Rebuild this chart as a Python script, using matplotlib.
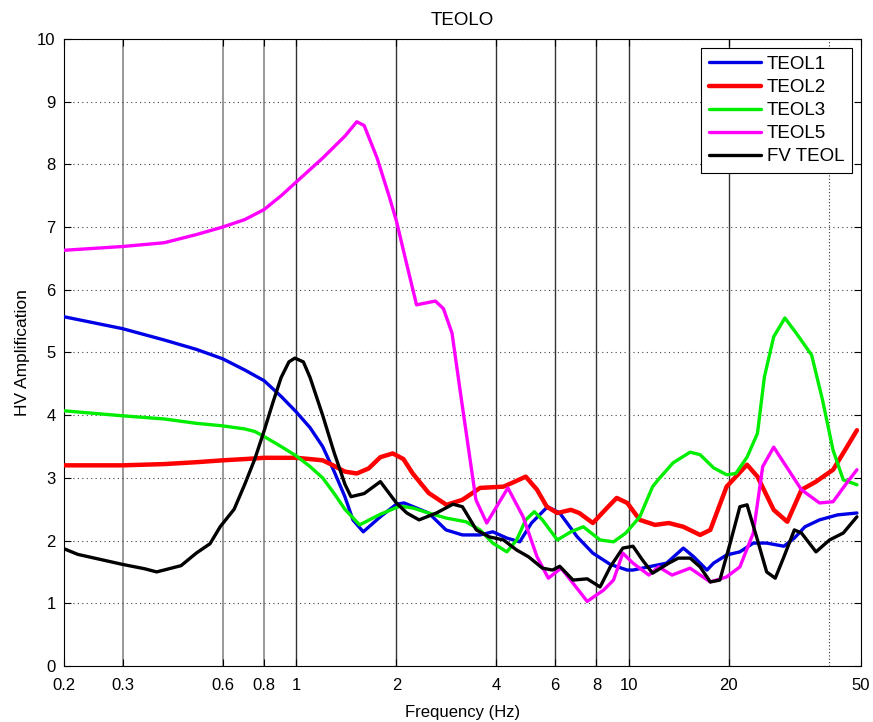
import matplotlib
matplotlib.use('Agg')
import matplotlib.pyplot as plt
import numpy as np

plt.rcParams['font.family'] = ['Liberation Sans', 'DejaVu Sans']

# frequencies (Hz) and HV amplification
f_teol1 = [0.2, 0.3, 0.4, 0.5, 0.6, 0.7, 0.8, 0.9, 1.0, 1.1, 1.2, 1.3, 1.4, 1.48, 1.59, 1.79,
           2.0, 2.11, 2.5, 2.82, 3.16, 3.57, 3.9, 4.3, 4.7, 5.1, 5.7, 6.2, 7.0, 7.8, 8.8, 9.9,
           10.3, 13.0, 14.6, 15.7, 17.2, 18.0, 19.7, 21.6, 23.7, 26.0, 29.3, 31.5, 33.9,
           37.5, 42.5, 48.6]
v_teol1 = [5.57, 5.38, 5.2, 5.05, 4.9, 4.72, 4.55, 4.3, 4.05, 3.8, 3.5, 3.1, 2.7, 2.33, 2.14, 2.38,
           2.58, 2.6, 2.44, 2.17, 2.09, 2.09, 2.14, 2.04, 1.98, 2.28, 2.54, 2.44, 2.06, 1.8, 1.62, 1.53,
           1.53, 1.64, 1.88, 1.74, 1.53, 1.64, 1.77, 1.82, 1.96, 1.96, 1.91, 2.04, 2.22,
           2.33, 2.41, 2.44]

f_teol2 = [0.2, 0.3, 0.4, 0.5, 0.6, 0.7, 0.8, 0.9, 1.0, 1.1, 1.2, 1.29, 1.4, 1.52, 1.65, 1.79,
           1.95, 2.1, 2.24, 2.5, 2.83, 3.16, 3.57, 4.2, 4.5, 4.9, 5.3, 5.67, 6.1, 6.7, 7.1, 7.8,
           8.6, 9.2, 9.9, 10.8, 12.0, 13.2, 14.6, 16.4, 17.6, 19.7, 22.7, 24.4, 27.3, 30.0,
           33.1, 36.6, 41.2, 45.3, 48.6]
v_teol2 = [3.2, 3.2, 3.22, 3.25, 3.28, 3.3, 3.32, 3.32, 3.32, 3.3, 3.28, 3.2, 3.1, 3.07, 3.15, 3.33,
           3.39, 3.3, 3.07, 2.76, 2.57, 2.65, 2.84, 2.86, 2.93, 3.02, 2.81, 2.54, 2.44, 2.49, 2.44, 2.28,
           2.52, 2.68, 2.6, 2.33, 2.25, 2.28, 2.22, 2.09, 2.17, 2.86, 3.21, 3.02, 2.49, 2.3,
           2.81, 2.94, 3.13, 3.49, 3.76]

f_teol3 = [0.2, 0.3, 0.4, 0.5, 0.6, 0.7, 0.75, 0.8, 0.9, 1.0, 1.1, 1.2, 1.3, 1.4, 1.55, 1.79,
           2.05, 2.24, 2.5, 2.82, 3.24, 3.57, 3.9, 4.3, 4.6, 4.9, 5.2, 5.5, 6.1, 6.7, 7.3, 8.2,
           9.0, 9.8, 10.8, 11.8, 12.4, 13.6, 15.3, 16.4, 18.0, 19.7, 21.0, 22.7, 24.4, 25.6,
           27.3, 29.5, 31.9, 35.5, 38.3, 41.2, 44.2, 48.6]
v_teol3 = [4.07, 3.99, 3.94, 3.87, 3.83, 3.78, 3.74, 3.66, 3.5, 3.35, 3.18, 3.0, 2.75, 2.5, 2.25, 2.42,
           2.55, 2.52, 2.44, 2.36, 2.3, 2.17, 1.96, 1.82, 2.01, 2.33, 2.46, 2.33, 2.01, 2.14, 2.22, 2.01,
           1.98, 2.12, 2.38, 2.86, 3.0, 3.24, 3.41, 3.37, 3.16, 3.05, 3.07, 3.33, 3.71, 4.61,
           5.25, 5.55, 5.31, 4.96, 4.24, 3.44, 2.97, 2.89]

f_teol5 = [0.2, 0.3, 0.4, 0.5, 0.6, 0.7, 0.8, 0.9, 1.0, 1.2, 1.4, 1.52, 1.6, 1.75, 1.9, 2.0,
           2.15, 2.3, 2.62, 2.77, 2.94, 3.14, 3.47, 3.74, 4.33, 4.81, 5.3, 5.73, 6.26, 6.8, 7.5,
           8.4, 9.0, 9.6, 10.3, 11.5, 12.3, 13.5, 15.3, 17.6, 19.7, 21.6, 23.7, 25.3, 27.3,
           29.3, 33.1, 37.5, 41.2, 45.3, 48.6]
v_teol5 = [6.63, 6.69, 6.75, 6.88, 7.0, 7.12, 7.28, 7.5, 7.72, 8.1, 8.45, 8.68, 8.62, 8.1, 7.5, 7.1,
           6.4, 5.76, 5.82, 5.7, 5.31, 4.24, 2.65, 2.28, 2.84, 2.38, 1.74, 1.4, 1.56, 1.32, 1.03,
           1.21, 1.37, 1.8, 1.64, 1.45, 1.58, 1.45, 1.56, 1.34, 1.42, 1.58, 2.12, 3.18, 3.49,
           3.24, 2.81, 2.6, 2.62, 2.92, 3.13]

f_fv = [0.2, 0.22, 0.3, 0.35, 0.38, 0.45, 0.5, 0.55, 0.59, 0.65, 0.7, 0.75, 0.8, 0.85, 0.9, 0.95,
        0.99, 1.05, 1.1, 1.2, 1.3, 1.4, 1.46, 1.6, 1.79, 2.0, 2.15, 2.34, 2.64, 2.96, 3.16,
        3.48, 3.8, 4.2, 4.6, 5.0, 5.5, 5.9, 6.2, 6.8, 7.5, 8.2, 8.8, 9.6, 10.3, 11.0, 11.8,
        13.2, 14.1, 15.3, 16.4, 17.6, 18.8, 20.2, 21.6, 22.7, 24.4, 26.0, 27.6, 29.3, 31.5,
        33.1, 36.6, 40.2, 44.2, 48.6]
v_fv = [1.87, 1.78, 1.62, 1.55, 1.5, 1.6, 1.8, 1.95, 2.22, 2.5, 2.9, 3.3, 3.75, 4.2, 4.6, 4.85,
        4.91, 4.85, 4.6, 4.0, 3.4, 2.9, 2.7, 2.75, 2.94, 2.6, 2.44, 2.33, 2.44, 2.58, 2.54,
        2.17, 2.06, 2.01, 1.85, 1.74, 1.56, 1.53, 1.59, 1.37, 1.39, 1.26, 1.58, 1.88, 1.91, 1.69, 1.48,
        1.64, 1.72, 1.72, 1.58, 1.34, 1.37, 1.96, 2.54, 2.57, 2.01, 1.5, 1.4, 1.74, 2.17,
        2.12, 1.82, 2.01, 2.12, 2.38]

x_ticks = [0.2, 0.3, 0.6, 0.8, 1, 2, 4, 6, 8, 10, 20, 50]
x_tick_labels = ['0.2', '0.3', '0.6', '0.8', '1', '2', '4', '6', '8', '10', '20', '50']

fig = plt.figure(figsize=(8.73, 7.22), dpi=100)
ax = fig.add_axes([0.0733, 0.0776, 0.913, 0.8684])

# vertical grid lines
for xv in [0.3, 0.6, 0.8]:
    ax.axvline(xv, color='#888888', lw=1.2, zorder=1)
for xv in [1, 2, 4, 6, 8, 10, 20]:
    ax.axvline(xv, color='#333333', lw=1.0, zorder=1)
ax.axvline(40, color='#333333', lw=0.8, ls=(0, (1, 2)), zorder=1)

style = dict(lw=2.4, solid_joinstyle='round', solid_capstyle='round', zorder=3)
ax.plot(f_teol1, v_teol1, color='#0000e6', label='TEOL1', **style)
ax.plot(f_teol2, v_teol2, color='#ff0000', label='TEOL2', **{**style, 'lw': 3.2})
ax.plot(f_teol3, v_teol3, color='#00ee00', label='TEOL3', **style)
ax.plot(f_teol5, v_teol5, color='#ff00ff', label='TEOL5', **style)
ax.plot(f_fv, v_fv, color='black', label='FV TEOL', **style)

ax.set_xscale('log')
ax.set_xlim(0.2, 50)
ax.set_ylim(0, 10)
ax.set_xticks(x_ticks)
ax.set_xticklabels(x_tick_labels)
ax.xaxis.set_minor_locator(matplotlib.ticker.NullLocator())
ax.set_yticks(range(0, 11))
ax.yaxis.grid(True, ls=(0, (1, 3)), color='#444444', lw=0.8)
ax.tick_params(direction='in', top=True, right=True, labelsize=12, length=5)
ax.tick_params(axis='x', pad=9)
ax.tick_params(axis='y', pad=6)

ax.set_title('TEOLO', fontsize=13.5, pad=10)
ax.set_xlabel('Frequency (Hz)', fontsize=12, labelpad=8)
ax.set_ylabel('HV Amplification', fontsize=12.5, labelpad=5)

leg = ax.legend(loc='upper right', fontsize=13.5, handlelength=2.8, handletextpad=0.3,
                fancybox=False, framealpha=1, edgecolor='black', borderaxespad=0.5,
                labelspacing=0.32, borderpad=0.4)
leg.get_frame().set_linewidth(0.8)

fig.savefig('out.png', dpi=100)
